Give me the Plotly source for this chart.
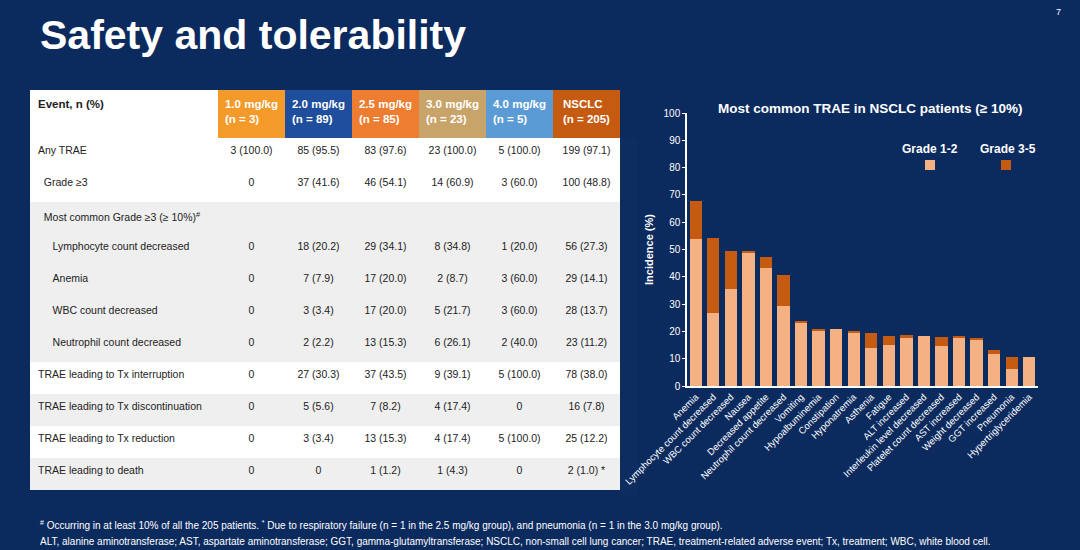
import plotly.graph_objects as go

BG = "#0b2a5e"
FONT = "Liberation Sans, Arial, sans-serif"

# ---- table data ----
headers = ["Event, n (%)", "1.0 mg/kg<br>(n = 3)", "2.0 mg/kg<br>(n = 89)", "2.5 mg/kg<br>(n = 85)",
           "3.0 mg/kg<br>(n = 23)", "4.0 mg/kg<br>(n = 5)", "NSCLC<br>(n = 205)"]
header_colors = ["white", "#f39a2b", "#1f4e9c", "#ed7d31", "#c9a46a", "#5b9bd5", "#c55a11"]
NB = "\u00a0"
events = ["Any TRAE", NB*2 + "Grade ≥3", NB*2 + "Most common Grade ≥3 (≥ 10%)<sup>#</sup>",
          NB*5 + "Lymphocyte count decreased", NB*5 + "Anemia", NB*5 + "WBC count decreased",
          NB*5 + "Neutrophil count decreased", "TRAE leading to Tx interruption",
          "TRAE leading to Tx discontinuation", "TRAE leading to Tx reduction", "TRAE leading to death"]
col_10 = ["3 (100.0)", "0", "", "0", "0", "0", "0", "0", "0", "0", "0"]
col_20 = ["85 (95.5)", "37 (41.6)", "", "18 (20.2)", "7 (7.9)", "3 (3.4)", "2 (2.2)", "27 (30.3)", "5 (5.6)", "3 (3.4)", "0"]
col_25 = ["83 (97.6)", "46 (54.1)", "", "29 (34.1)", "17 (20.0)", "17 (20.0)", "13 (15.3)", "37 (43.5)", "7 (8.2)", "13 (15.3)", "1 (1.2)"]
col_30 = ["23 (100.0)", "14 (60.9)", "", "8 (34.8)", "2 (8.7)", "5 (21.7)", "6 (26.1)", "9 (39.1)", "4 (17.4)", "4 (17.4)", "1 (4.3)"]
col_40 = ["5 (100.0)", "3 (60.0)", "", "1 (20.0)", "3 (60.0)", "3 (60.0)", "2 (40.0)", "5 (100.0)", "0", "5 (100.0)", "0"]
col_ns = ["199 (97.1)", "100 (48.8)", "", "56 (27.3)", "29 (14.1)", "28 (13.7)", "23 (11.2)", "78 (38.0)", "16 (7.8)", "25 (12.2)", "2 (1.0) *"]
row_fill = ["white", "white", "#efefef", "#efefef", "#efefef", "#efefef", "#efefef", "white", "#efefef", "white", "#efefef"]

# ---- bar data ----
trae = ["Anemia", "Lymphocyte count decreased", "WBC count decreased", "Nausea", "Decreased appetite",
        "Neutrophil count decreased", "Vomiting", "Hypoalbuminemia", "Constipation", "Hyponatremia",
        "Asthenia", "Fatigue", "ALT increased", "Interleukin level decreased", "Platelet count decreased",
        "AST increased", "Weight decreased", "GGT increased", "Pneumonia", "Hypertriglyceridemia"]
grade12 = [53.7, 26.9, 35.6, 48.8, 43.4, 29.3, 22.9, 20.5, 21.0, 19.5, 14.1, 15.1, 17.6, 18.5, 14.6, 17.6, 17.1, 11.7, 6.3, 10.7]
grade35 = [14.1, 27.3, 13.7, 0.5, 3.9, 11.2, 1.0, 0.5, 0.0, 0.5, 5.4, 3.4, 1.0, 0.0, 3.4, 0.5, 0.5, 1.5, 4.4, 0.0]

fig = go.Figure()

W, H = 1080, 550
fig.add_trace(go.Table(
    domain=dict(x=[30/W, 620/W], y=[(H-496)/H, (H-90)/H]),
    columnwidth=[188, 67, 67, 67, 67, 67, 67],
    header=dict(values=["<b>%s</b>" % h for h in headers],
                fill_color=header_colors,
                font=dict(family=FONT, size=11.5, color=["#222"] + ["white"]*6),
                align=["left"] + ["center"]*6, height=48,
                line=dict(color=header_colors, width=0)),
    cells=dict(values=[events, col_10, col_20, col_25, col_30, col_40, col_ns],
               fill_color=[row_fill]*7,
               font=dict(family=FONT, size=10.5, color="#222"),
               align=["left"] + ["center"]*6, height=32,
               line=dict(color=[row_fill]*7, width=0)),
))

fig.add_trace(go.Bar(x=trae, y=grade12, name="Grade 1-2", marker=dict(color="#f4b183", line=dict(width=0)),
                     width=0.7))
fig.add_trace(go.Bar(x=trae, y=grade35, name="Grade 3-5", marker=dict(color="#c55a11", line=dict(width=0)),
                     width=0.7))

fig.update_layout(
    width=W, height=H, paper_bgcolor=BG, plot_bgcolor=BG, barmode="stack", showlegend=False,
    margin=dict(l=0, r=0, t=0, b=0, autoexpand=False),
    font=dict(family=FONT, color="white"),
    xaxis=dict(domain=[687/W, 1038/W], tickangle=-45, tickfont=dict(size=9.5, color="white"),
               showgrid=False, showline=True, linecolor="white", linewidth=1.5, ticks="",
               automargin=False),
    yaxis=dict(domain=[(H-386)/H, (H-113)/H], range=[0, 100], dtick=10, showgrid=False,
               showline=True, linecolor="white", linewidth=1.5, ticks="outside", ticklen=3,
               tickcolor="white", tickfont=dict(size=10, color="white"), automargin=False,
               title=dict(text="<b>Incidence (%)</b>", font=dict(size=11, color="white"), standoff=8),
               zeroline=False),
)

ann = [
    dict(text="<b>Safety and tolerability</b>", x=38/W, y=(H-35)/H, xanchor="left", yanchor="middle",
         font=dict(size=41, color="white")),
    dict(text="7", x=1058/W, y=(H-12)/H, xanchor="center", yanchor="middle", font=dict(size=9, color="white")),
    dict(text="<b>Most common TRAE in NSCLC patients (≥ 10%)</b>", x=870/W, y=(H-108)/H,
         xanchor="center", yanchor="middle", font=dict(size=13.5, color="white")),
    dict(text="<b>Grade 1-2</b>", x=930/W, y=(H-149)/H, xanchor="center", yanchor="middle",
         font=dict(size=12, color="white")),
    dict(text="<b>Grade 3-5</b>", x=1008/W, y=(H-149)/H, xanchor="center", yanchor="middle",
         font=dict(size=12, color="white")),
    dict(text="<sup>#</sup> Occurring in at least 10% of all the 205 patients. <sup>*</sup> Due to respiratory failure (n = 1 in the 2.5 mg/kg group), and pneumonia (n = 1 in the 3.0 mg/kg group).",
         x=38/W, y=(H-525)/H, xanchor="left", yanchor="middle", font=dict(size=10, color="white")),
    dict(text="ALT, alanine aminotransferase; AST, aspartate aminotransferase; GGT, gamma-glutamyltransferase; NSCLC, non-small cell lung cancer; TRAE, treatment-related adverse event; Tx, treatment; WBC, white blood cell.",
         x=38/W, y=(H-541)/H, xanchor="left", yanchor="middle", font=dict(size=10, color="white")),
]
for a in ann:
    a.update(xref="paper", yref="paper", showarrow=False)
fig.update_layout(annotations=ann)

fig.update_layout(shapes=[
    dict(type="rect", xref="paper", yref="paper", x0=930/W - 5/W, x1=930/W + 5/W,
         y0=(H-170)/H, y1=(H-160)/H, fillcolor="#f4b183", line=dict(width=0)),
    dict(type="rect", xref="paper", yref="paper", x0=1006/W - 5/W, x1=1006/W + 5/W,
         y0=(H-170)/H, y1=(H-160)/H, fillcolor="#c55a11", line=dict(width=0)),
])

fig.write_html("out.html", config={"displayModeBar": False},
               post_script="document.body.style.margin='0';")
